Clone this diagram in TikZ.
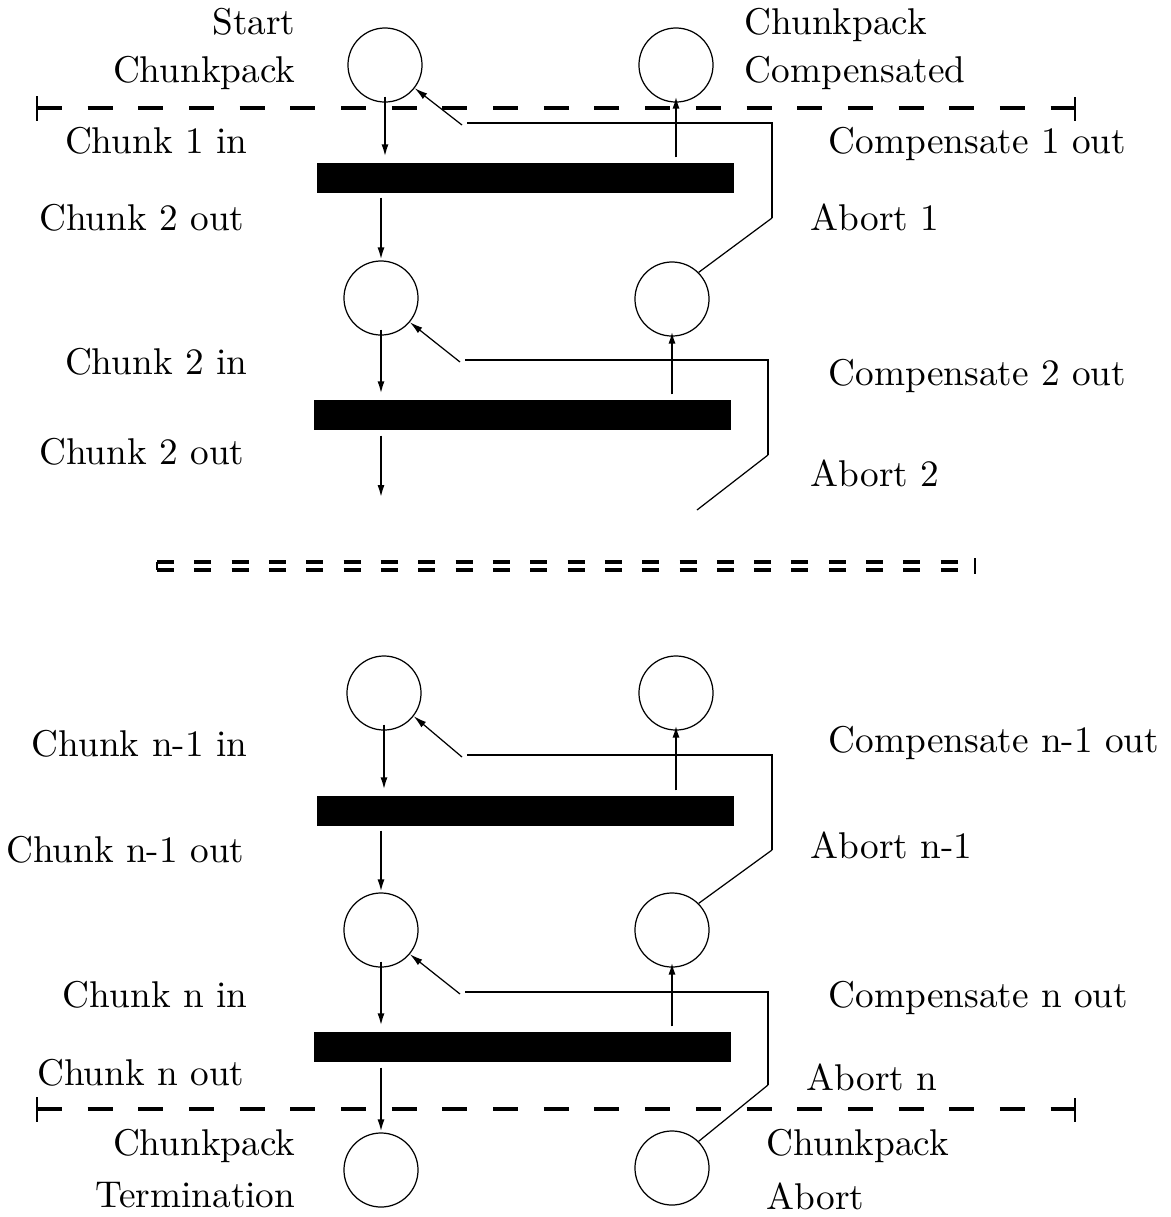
\documentclass[tikz,border=0pt]{standalone}
\usetikzlibrary{arrows.meta}
\begin{document}
\begin{tikzpicture}[x=0.01cm,y=-0.01cm,
  place/.style={circle,draw,line width=0.35pt,minimum size=0.74cm,inner sep=0pt},
  trans/.style={rectangle,fill=black,draw=none,minimum width=4.17cm,minimum height=0.30cm,inner sep=0pt},
  flow/.style={line width=0.65pt,-{Latex[length=1.3mm,width=0.7mm]}},
  rail/.style={line width=0.8pt},
  slant/.style={line width=0.35pt},
  back/.style={slant,-{Latex[length=1.3mm,width=0.7mm]}},
  lbl/.style={inner sep=0pt,font=\fontsize{10.6}{12}\selectfont},
  lblL/.style={lbl,anchor=base east},
  lblR/.style={lbl,anchor=base west},
  border/.style={line width=1pt,dash pattern=on 0.25cm off 0.2565cm},
  gap/.style={line width=0.95pt,dash pattern=on 0.17cm off 0.203cm}]

\useasboundingbox (0,0) rectangle (1171,1217);

% ---- chunkpack boundaries ----
\coordinate (topL) at (37,108);   \coordinate (topR) at (1075,108);
\coordinate (botL) at (37,1109);  \coordinate (botR) at (1075,1109);
\draw[border] (topL) -- (topR);
\draw[border] (botL) -- (botR);
\draw[rail] (topL) ++(0,-12) -- ++(0,25);
\draw[rail] (topR) ++(0,-11) -- ++(0,24);
\draw[rail] (botL) ++(0,-12) -- ++(0,25);
\draw[rail] (botR) ++(0,-11) -- ++(0,24);

% ---- elided middle section ----
\coordinate (gapA) at (157,562); \coordinate (gapB) at (157,570);
\coordinate (gapC) at (975,562); \coordinate (gapD) at (975,570);
\draw[gap] (gapA) -- (gapC);
\draw[gap] (gapB) -- (gapD);
\draw[rail] (gapA) -- (gapB);
\draw[rail] (gapC) ++(0,-4) -- ++(0,16);

% ---- places and transitions ----
\node[place] (s0)   at (385,65)  {};
\node[place] (c0)   at (676,65)  {};
\node[trans] (b1)   at (525.5,178) {};
\node[place] (m1)   at (381,298) {};
\node[place] (r1)   at (672,299) {};
\node[trans] (b2)   at (522.5,415) {};
\coordinate (out2)    at (381,498);
\coordinate (dangle2) at (697,510);
\node[place] (m3)   at (384,693) {};
\node[place] (r3)   at (676,693) {};
\node[trans] (b3)   at (525.5,811) {};
\node[place] (m4)   at (381,930) {};
\node[place] (r4)   at (672,930) {};
\node[trans] (b4)   at (522.5,1047) {};
\node[place] (term) at (381,1170) {};
\node[place] (abrt) at (672,1168) {};

% ---- chunk 1 ----
\draw[flow,shorten <=-0.06cm,shorten >=0.05cm] (s0.south) -- (s0.south |- b1.north);
\draw[flow,shorten <=0.05cm,shorten >=-0.07cm] (c0.south |- b1.north) -- (c0.south);
\draw[flow,shorten <=0.04cm] (m1.north |- b1.south) -- (m1.north);
\coordinate (k1) at (772,218); \coordinate (h1) at (772,123);
\coordinate (e1) at (467,123); \coordinate (f1) at (462,125);
\draw[slant] (r1.45) -- (k1);
\draw[rail] (k1) -- (h1) -- (e1);
\draw[back] (f1) -- (s0.-38);

% ---- chunk 2 ----
\draw[flow,shorten <=-0.06cm,shorten >=0.05cm] (m1.south) -- (m1.south |- b2.north);
\draw[flow,shorten <=0.05cm,shorten >=-0.06cm] (r1.south |- b2.north) -- (r1.south);
\draw[flow,shorten <=0.05cm] (m1.south |- b2.south) -- (out2);
\coordinate (k2) at (768,455); \coordinate (h2) at (768,360);
\coordinate (e2) at (465,360); \coordinate (f2) at (460,362);
\draw[slant] (dangle2) -- (k2);
\draw[rail] (k2) -- (h2) -- (e2);
\draw[back] (f2) -- (m1.-40);

% ---- chunk n-1 ----
\draw[flow,shorten <=-0.06cm,shorten >=0.05cm] (m3.south) -- (m3.south |- b3.north);
\draw[flow,shorten <=0.05cm,shorten >=-0.06cm] (r3.south |- b3.north) -- (r3.south);
\draw[flow,shorten <=0.04cm] (m4.north |- b3.south) -- (m4.north);
\coordinate (k3) at (772,850); \coordinate (h3) at (772,755);
\coordinate (e3) at (467,755); \coordinate (f3) at (462,757);
\draw[slant] (r4.45) -- (k3);
\draw[rail] (k3) -- (h3) -- (e3);
\draw[back] (f3) -- (m3.-38);

% ---- chunk n ----
\draw[flow,shorten <=-0.06cm,shorten >=0.05cm] (m4.south) -- (m4.south |- b4.north);
\draw[flow,shorten <=0.05cm,shorten >=-0.06cm] (r4.south |- b4.north) -- (r4.south);
\draw[flow,shorten <=0.05cm] (term.north |- b4.south) -- (term.north);
\coordinate (k4) at (768,1085); \coordinate (h4) at (768,992);
\coordinate (e4) at (465,992); \coordinate (f4) at (460,994);
\draw[slant] (abrt.45) -- (k4);
\draw[rail] (k4) -- (h4) -- (e4);
\draw[back] (f4) -- (m4.-40);

% ---- labels ----
\node[lblL] (tStart) at (296,34)   {Start};
\node[lblL] (tCp1)   at (296,82)   {Chunkpack};
\node[lblR] (tCp2)   at (744,34)   {Chunkpack};
\node[lblR] (tComp)  at (744,82)   {Compensated};
\node[lblL] (tIn1)   at (248,153)  {Chunk 1 in};
\node[lblR] (tCo1)   at (828,153)  {Compensate 1 out};
\node[lblL] (tOut1)  at (245,230)  {Chunk 2 out};
\node[lblR] (tAb1)   at (810,230)  {Abort 1};
\node[lblL] (tIn2)   at (248,374)  {Chunk 2 in};
\node[lblR] (tCo2)   at (828,385)  {Compensate 2 out};
\node[lblL] (tOut2)  at (245,464)  {Chunk 2 out};
\node[lblR] (tAb2)   at (810,486)  {Abort 2};
\node[lblL] (tInN1)  at (248,756)  {Chunk n-1 in};
\node[lblR] (tCoN1)  at (828,752)  {Compensate n-1 out};
\node[lblL] (tOutN1) at (245,862)  {Chunk n-1 out};
\node[lblR] (tAbN1)  at (810,858)  {Abort n-1};
\node[lblL] (tInN)   at (248,1007) {Chunk n in};
\node[lblR] (tCoN)   at (828,1007) {Compensate n out};
\node[lblL] (tOutN)  at (245,1085) {Chunk n out};
\node[lblR] (tAbN)   at (806,1090) {Abort n};
\node[lblL] (tCp3)   at (296,1155) {Chunkpack};
\node[lblL] (tTerm)  at (296,1207) {Termination};
\node[lblR] (tCp4)   at (766,1155) {Chunkpack};
\node[lblR] (tAbrt)  at (766,1209) {Abort};
\end{tikzpicture}
\end{document}
